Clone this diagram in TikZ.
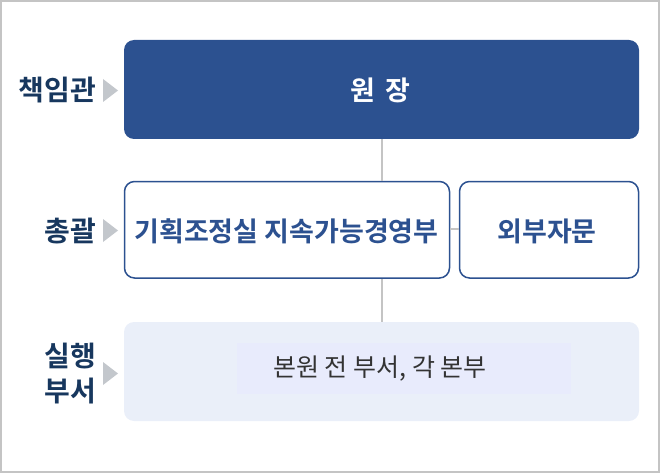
\documentclass[tikz,border=0pt]{standalone}
\usepackage{fontspec}
\newfontfamily\kr{Noto Sans CJK KR}
\newfontfamily\krb{Noto Sans CJK KR Bold}
\definecolor{navy}{HTML}{2C5190}
\definecolor{lbl}{HTML}{17375E}
\definecolor{linegray}{HTML}{C4C4C4}
\definecolor{arrgray}{HTML}{C3C7CC}
\definecolor{lightbg}{HTML}{EAEFF9}
\definecolor{innerbg}{HTML}{E8EBFC}
\definecolor{txtgray}{HTML}{333333}
\begin{document}
\begin{tikzpicture}[x=1pt,y=-1pt,
  lab/.style={font=\krb\fontsize{28}{35}\selectfont,text=lbl,anchor=east,align=center,inner sep=0pt},
  tri/.style={fill=arrgray,draw=none}]
\useasboundingbox (0,0) rectangle (660,473);
\draw[linegray,line width=2pt] (1,1) rectangle (659,472);
% boxes
\fill[navy,rounded corners=10pt] (124,40) rectangle (639,139);
\node (top) at (380.5,90) {\krb\fontsize{27}{28}\selectfont\color{white}원\hspace{0.35em}장};
\draw[navy,line width=1.5pt,rounded corners=10pt,fill=white] (124.5,181.5) rectangle (449.5,278);
\node (mid) at (286.5,231) {\krb\fontsize{27}{30}\selectfont\color{navy}기획조정실 지속가능경영부};
\draw[navy,line width=1.5pt,rounded corners=10pt,fill=white] (459.5,181.5) rectangle (638.5,278);
\node (ext) at (547,231) {\krb\fontsize{27}{30}\selectfont\color{navy}외부자문};
\fill[lightbg,rounded corners=10pt] (124,322) rectangle (639,421);
\fill[innerbg] (237,343) rectangle (571,394);
\node (bot) at (380,369) {\kr\fontsize{25}{28}\selectfont\color{txtgray}본원 전 부서, 각 본부};
% connectors
\coordinate (c1) at (382,139);
\coordinate (c2) at (382,181);
\coordinate (c3) at (382,278.8);
\coordinate (c4) at (382,322);
\coordinate (h1) at (450.3,229);
\coordinate (h2) at (458.7,229);
\draw[linegray,line width=1.5pt] (c1) -- (c2);
\draw[linegray,line width=1.5pt] (c3) -- (c4);
\draw[linegray,line width=1.5pt] (h1) -- (h2);
% labels
\node[lab] (l1) at (96,90) {책임관};
\node[lab] (l2) at (96,231) {총괄};
\node[lab] (l3) at (96,374) {실행\\부서};
\fill[tri] (103,79) -- (118,90.5) -- (103,102) -- cycle;
\fill[tri] (103,219) -- (118,230.5) -- (103,242) -- cycle;
\fill[tri] (103,362) -- (118,373.5) -- (103,385) -- cycle;
\end{tikzpicture}
\end{document}
